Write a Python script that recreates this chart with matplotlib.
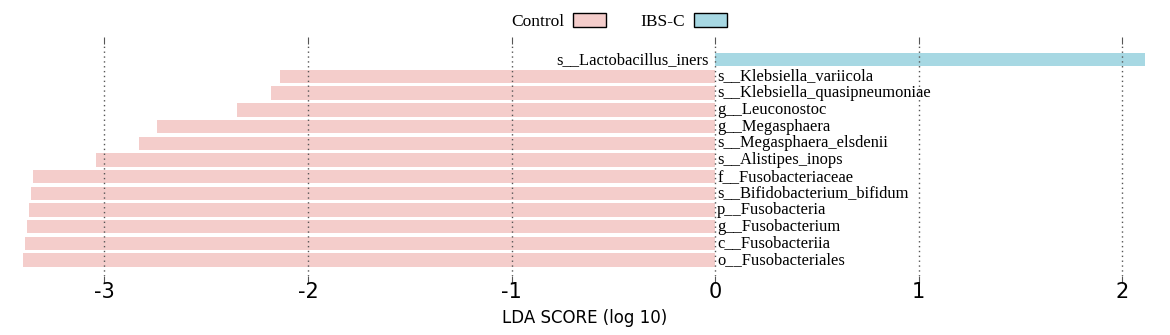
import matplotlib.pyplot as plt
from matplotlib.patches import Patch

taxa = ['s__Lactobacillus_iners', 's__Klebsiella_variicola', 's__Klebsiella_quasipneumoniae',
        'g__Leuconostoc', 'g__Megasphaera', 's__Megasphaera_elsdenii', 's__Alistipes_inops',
        'f__Fusobacteriaceae', 's__Bifidobacterium_bifidum', 'p__Fusobacteria',
        'g__Fusobacterium', 'c__Fusobacteriia', 'o__Fusobacteriales']
lda = [2.11, -2.14, -2.18, -2.35, -2.74, -2.83, -3.04,
       -3.35, -3.36, -3.37, -3.38, -3.39, -3.40]
groups = ['IBS-C', 'Control', 'Control', 'Control', 'Control', 'Control', 'Control',
          'Control', 'Control', 'Control', 'Control', 'Control', 'Control']
ticks = [-3, -2, -1, 0, 1, 2]

colors = {'Control': '#f4cdcb', 'IBS-C': '#a7d8e3'}
sans = ['DejaVu Sans']

fig = plt.figure(figsize=(11.7, 3.35), dpi=100)
ax = fig.add_axes([20 / 1170, 0.176, 1130 / 1170, 0.693])

ypos = list(range(len(taxa)))
ax.barh(ypos, lda, height=0.8, color=[colors[g] for g in groups], zorder=1)

for y, name, v in zip(ypos, taxa, lda):
    if v < 0:
        ax.text(0.01, y, name, ha='left', va='center', fontsize=11.9,
                family='Liberation Serif', zorder=3)
    else:
        ax.text(-0.03, y, name, ha='right', va='center', fontsize=11.9,
                family='Liberation Serif', zorder=3)

for t in ticks:
    ax.axvline(t, color='#555555', lw=1, ls=(0, (1, 2.5)), zorder=2)

ax.set_xlim(-3.415, 2.137)
ax.set_ylim(12.95, -0.95)
ax.set_xticks(ticks)
ax.set_xticklabels([str(t) for t in ticks], fontsize=15, family=sans)
ax.set_yticks([])
ax.tick_params(axis='x', length=5, color='#555555', pad=-1, top=True)
for s in ax.spines.values():
    s.set_visible(False)
ax.set_xlabel('LDA SCORE (log 10)', fontsize=12, family=sans, labelpad=5)

handles = [Patch(facecolor=colors['Control'], edgecolor='black', label='Control'),
           Patch(facecolor=colors['IBS-C'], edgecolor='black', label='IBS-C')]
leg = fig.legend(handles=handles, loc='center', bbox_to_anchor=(0.529, 0.935), ncol=2,
                 frameon=False, prop={'family': 'Liberation Serif', 'size': 12.5},
                 markerfirst=False, handlelength=1.9, handleheight=0.8,
                 columnspacing=2.0, handletextpad=0.5)

fig.savefig('out.png', dpi=100)
